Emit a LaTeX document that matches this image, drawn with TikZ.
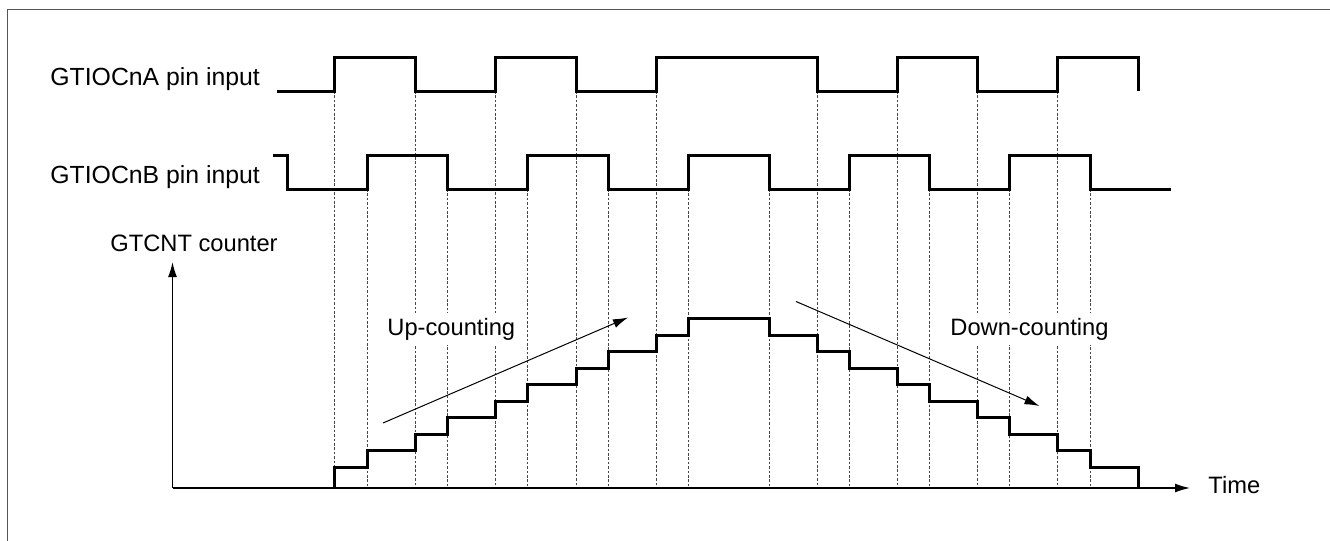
\documentclass[tikz,border=0pt]{standalone}
\usepackage{fontspec}
\setmainfont{Liberation Sans}
\usepackage{tikz}
\usetikzlibrary{arrows.meta,positioning}
\definecolor{framegray}{RGB}{85,85,85}
\definecolor{guidegray}{RGB}{70,70,70}

\begin{document}
\begin{tikzpicture}[
  x=0.5pt,y=-0.5pt,
  lbl/.style={anchor=base west,inner sep=0pt,font=\fontsize{11.85}{14}\selectfont},
  pinlbl/.style={lbl,font=\fontsize{12.4}{14}\selectfont},
  cntlbl/.style={lbl,fill=white,inner sep=2.5pt},
  wave/.style={line width=1.5pt,line join=miter},
  guide/.style={draw=guidegray,line width=0.45pt,dash pattern=on 1.3pt off 0.9pt},
  axis/.style={line width=0.75pt,-{Latex[length=7.5pt,width=4.5pt]}},
  trend/.style={line width=0.5pt,-{Latex[length=7.5pt,width=4.5pt]}}
]
\useasboundingbox (0,0) rectangle (1330,541);
% frame (open to the right and bottom)
\draw[framegray,line width=0.75pt] (7.5,541) -- (7.5,9.5) -- (1330,9.5);

% guides at every edge
\foreach \x in {334,415,495,576,656,817,897,977,1057}
  \draw[guide] (\x,91) -- (\x,488);
\foreach \x in {367,447,527,608,688,769,849,929,1009,1090}
  \draw[guide] (\x,189) -- (\x,488);

% axes
\coordinate (origin) at (172.5,488);
\coordinate (ytip) at (172.5,262);
\coordinate (xtip) at (1190,488);
\draw[axis] (origin) -- (ytip);
\draw[axis] (origin) -- (xtip);

% inputs
\draw[wave] (277,91) -| (334,57) -| (415,91) -| (495,57) -| (576,91) -| (656,57)
  -| (817,91) -| (897,57) -| (977,91) -| (1057,57) -| (1138,91);
\draw[wave] (273,155) -| (287,189) -| (367,155) -| (447,189) -| (527,155) -| (608,189)
  -| (688,155) -| (769,189) -| (849,155) -| (929,189) -| (1009,155) -| (1090,189) -- (1171,189);

% counter value
\draw[wave] (334,488) |- (367,467) |- (415,450.5) |- (447,434) |- (495,417.5) |- (527,401)
  |- (576,384.5) |- (608,368) |- (656,351.5) |- (688,335) |- (769,318.5) |- (817,335)
  |- (849,351.5) |- (897,368) |- (929,384.5) |- (977,401) |- (1009,417.5) |- (1057,434)
  |- (1090,450.5) |- (1138,467) -- (1138,488);

% labels
\node[pinlbl] (ina) at (50,85) {GTIOCnA pin input};
\node[pinlbl] (inb) at (50,183) {GTIOCnB pin input};
\node[lbl] (cnt) at (110,251.5) {GTCNT counter};
\node[lbl] (time) at (1208,493) {Time};
\node[cntlbl] (up) at (382,335) {Up-counting};
\node[cntlbl] (down) at (945,335) {Down-counting};

% direction arrows
\coordinate (upstart) at (383,423);
\coordinate (upend) at (628,317.5);
\coordinate (downstart) at (796,301.5);
\coordinate (downend) at (1039.5,406);
\draw[trend] (upstart) -- (upend);
\draw[trend] (downstart) -- (downend);
\end{tikzpicture}
\end{document}
